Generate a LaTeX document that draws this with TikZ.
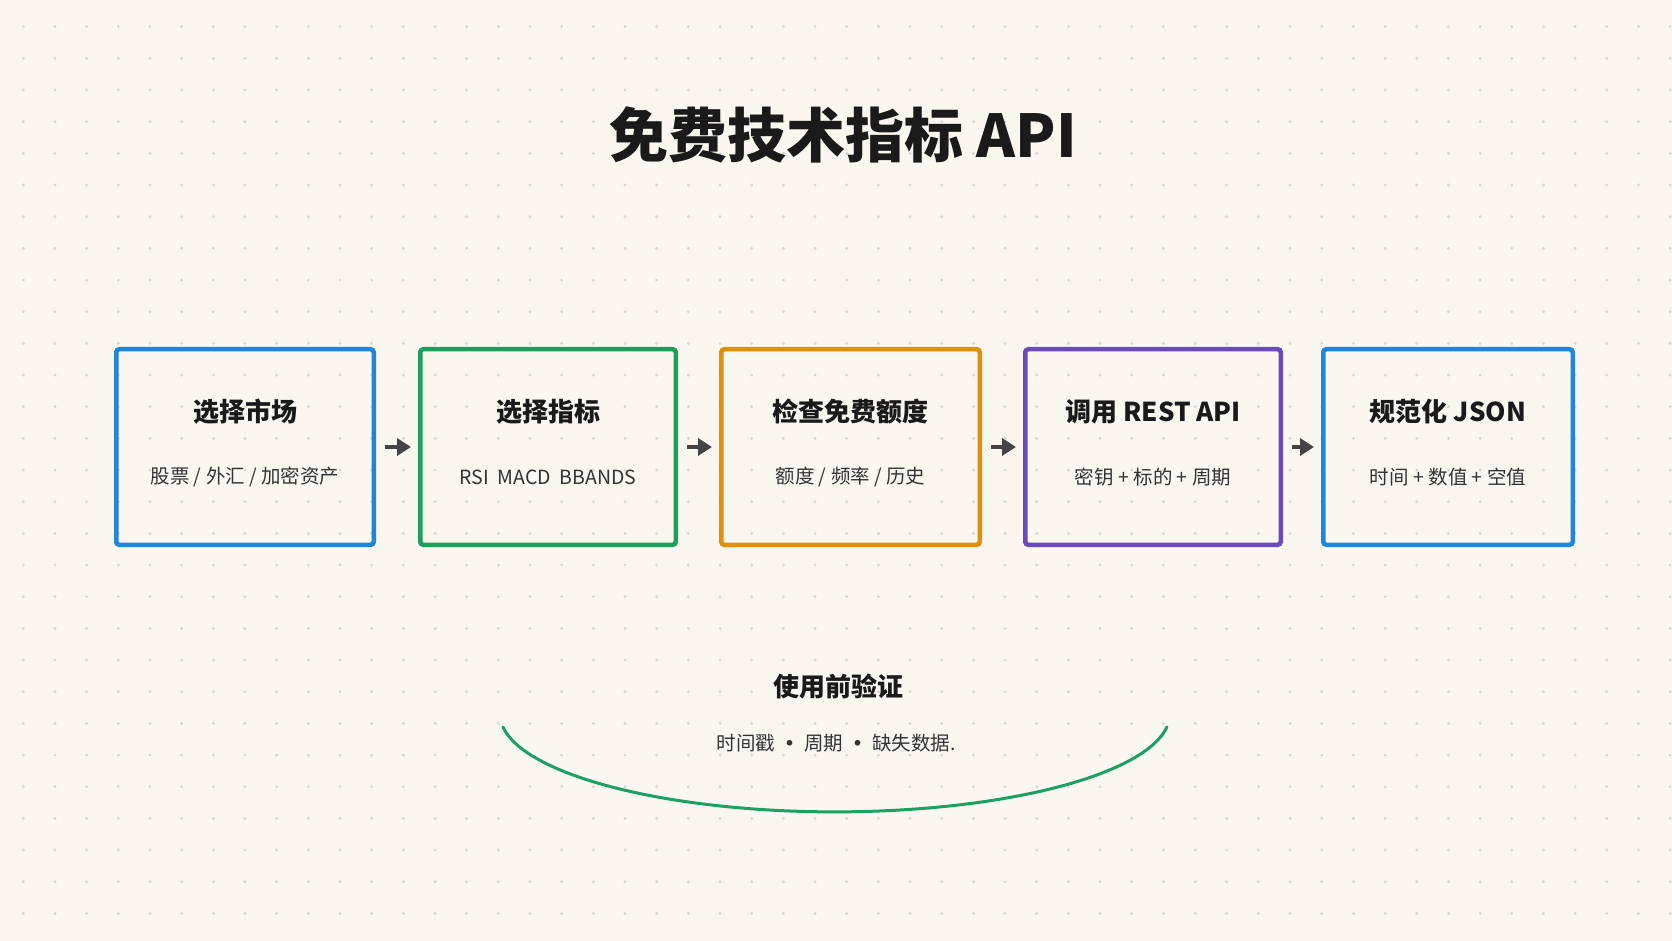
\documentclass[tikz,border=0pt]{standalone}
\usepackage{fontspec}
\setmainfont{Noto Sans CJK SC}
\newfontfamily\symfont{DejaVu Sans}
\usepackage{tikz}
\usetikzlibrary{arrows.meta}
\usetikzlibrary{positioning}
\definecolor{paper}{HTML}{FAF7F0}
\definecolor{griddot}{HTML}{D9D6CF}
\definecolor{cblue}{HTML}{1E86DC}
\definecolor{cgreen}{HTML}{1E9E5C}
\definecolor{corange}{HTML}{E0900E}
\definecolor{cpurple}{HTML}{6A4BBE}
\definecolor{carc}{HTML}{1CA162}
\definecolor{ink}{HTML}{1A1A1A}
\definecolor{subink}{HTML}{333333}
\definecolor{arrowc}{HTML}{444444}
\newcommand{\sepdot}{\ \ {\symfont •}\ \ }
\tikzset{
    stepbox/.style={
        draw,
        line width=2.25pt,
        rounded corners=1.5pt,
        minimum width=128pt,
        minimum height=97.75pt,
        inner sep=0pt
    },
    boxtitle/.style={
        font=\fontsize{13}{15}\selectfont\bfseries,
        text=ink,
        inner sep=0pt
    },
    boxsub/.style={
        font=\fontsize{9.75}{12}\selectfont,
        text=subink,
        inner sep=0pt
    },
    flow/.style={
        -{Triangle[length=7pt,width=8.5pt]},
        line width=1.75pt,
        draw=arrowc,
        shorten <=4.5pt,
        shorten >=3.5pt
    }
}

\begin{document}
\begin{tikzpicture}[x=0.5pt,y=-0.5pt]
            \fill[paper] (0,0) rectangle (1672,941);
            \useasboundingbox (0,0) rectangle (1672,941);
            \foreach \i in {0,...,52}
              \foreach \j in {0,...,28}
                \fill[griddot] (23.3+31.67*\i,26.7+31.67*\j) circle (0.8pt);
            \node[font=\fontsize{29.5}{34}\selectfont\bfseries,text=ink,inner sep=0pt] (title) at (843,135) {免费技术指标 API};
            % pipeline
            \node[stepbox,draw=cblue,minimum width=128.75pt] (market) at (245,447) {};
            \node[stepbox,draw=cgreen,minimum width=127.75pt] (indicator) at (548,447) {};
            \node[stepbox,draw=corange,minimum width=129.25pt] (quota) at (850.5,447) {};
            \node[stepbox,draw=cpurple,minimum width=127.75pt] (rest) at (1153,447) {};
            \node[stepbox,draw=cblue,minimum width=124.75pt] (json) at (1448,447) {};
            \node[boxtitle] at ([yshift=17.5pt]market.center) {选择市场};
            \node[boxsub] at ([yshift=-15pt]market.center) {股票 / 外汇 / 加密资产};
            \node[boxtitle] at ([yshift=17.5pt]indicator.center) {选择指标};
            \node[boxsub] at ([yshift=-15pt]indicator.center) {RSI\ \ MACD\ \ BBANDS};
            \node[boxtitle] at ([yshift=17.5pt]quota.center) {检查免费额度};
            \node[boxsub] at ([yshift=-15pt]quota.center) {额度 / 频率 / 历史};
            \node[boxtitle] at ([yshift=17.5pt]rest.center) {调用 REST API};
            \node[boxsub] at ([yshift=-15pt]rest.center) {密钥 + 标的 + 周期};
            \node[boxtitle] at ([yshift=17.5pt]json.center) {规范化 JSON};
            \node[boxsub] at ([yshift=-15pt]json.center) {时间 + 数值 + 空值};
            \foreach \s/\t in {market/indicator,indicator/quota,quota/rest,rest/json}
              \draw[flow] (\s.east) -- (\t.west);
            % check before use
            \node[boxtitle] (verify) at (838,687) {使用前验证};
            \node[boxsub] (verify-sub) at (836,743) {时间戳\sepdot 周期\sepdot 缺失数据.};
            \coordinate (arc-l) at (503,727);
            \draw[carc,line width=1.5pt,line cap=round] (arc-l) arc[start angle=172.3,end angle=7.7,x radius=335,y radius=98];
          \end{tikzpicture}
\end{document}
